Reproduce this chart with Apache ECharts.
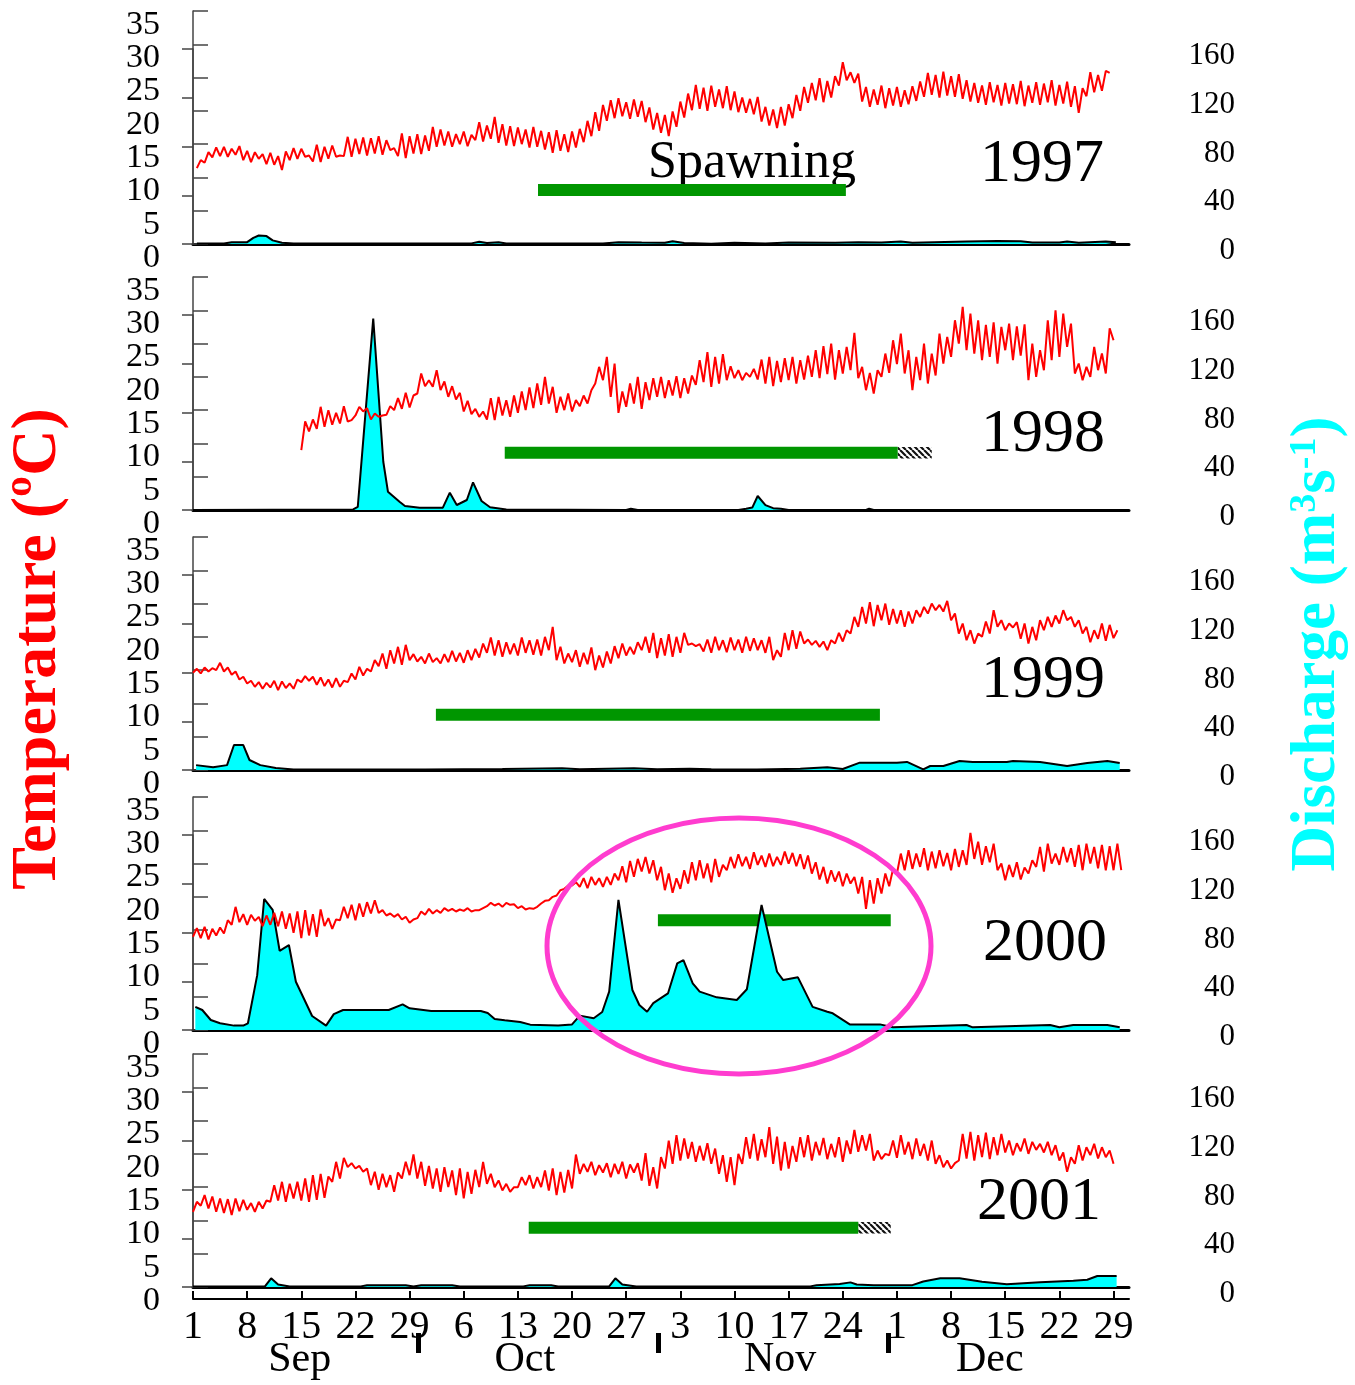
<!DOCTYPE html>
<html>
<head>
<meta charset="utf-8">
<title>Temperature and discharge, 1997-2001</title>
<style>
  body { margin: 0; background: #fff; }
  #chart { width: 1355px; height: 1385px; }
</style>
</head>
<body>
<div id="chart"></div>
<script src="https://cdn.jsdelivr.net/npm/echarts@6/dist/echarts.min.js"></script>
<script>
// ---- data (days counted from 1 Sep, half-day temperature readings: low, high, ...) ----
var years = ['1997', '1998', '1999', '2000', '2001'];

var tempStart = [0.5, 14, 0, 0, 0];

var temp1997 = [11.4,12.6, 12.2,13.8, 13.0,14.5, 13.2,14.6, 13.1,14.3, 13.4,14.7, 12.6,14.0, 12.3,13.8, 12.8,13.5, 12.0,13.7,
 11.9,13.2, 11.1,13.9, 12.6,14.4, 12.8,14.3, 13.1,13.3, 12.4,14.9, 12.3,14.6, 12.8,14.8, 13.1,13.3, 13.2,16.1,
 13.1,15.8, 13.5,16.0, 13.3,15.9, 13.6,16.2, 13.4,15.6, 14.1,14.4, 13.2,16.6, 12.9,16.2, 13.6,16.5, 13.5,16.3,
 14.0,17.6, 14.6,17.2, 14.8,16.9, 14.6,16.5, 15.0,16.9, 14.7,16.4, 15.6,18.3, 15.4,17.8, 15.8,19.1, 15.2,18.0,
 14.8,17.7, 14.7,17.5, 15.0,17.2, 14.5,17.6, 14.6,17.0, 14.2,16.8, 13.7,17.1, 14.0,16.5, 13.8,16.9, 14.5,17.3,
 15.3,18.5, 16.2,19.8, 17.0,20.9, 18.5,21.6, 18.9,21.9, 19.2,21.3, 18.8,21.7, 19.1,21.5, 18.3,20.5, 17.2,19.7,
 16.7,19.4, 16.2,19.9, 17.6,21.4, 19.0,22.6, 20.1,23.9, 20.3,23.5, 20.0,23.8, 20.6,23.2, 20.4,23.7, 20.1,22.9,
 19.8,22.0, 19.7,21.8, 19.5,22.1, 18.4,20.6, 17.8,20.2, 17.4,20.6, 17.8,21.0, 18.9,22.4, 20.0,23.6, 21.2,24.2,
 21.6,24.9, 21.3,24.5, 22.0,25.2, 23.8,27.3, 24.6,25.8, 24.2,25.6, 21.4,23.6, 20.6,23.2, 20.9,23.8, 20.4,23.4,
 20.8,23.6, 20.6,23.1, 21.0,23.7, 21.5,24.4, 22.1,25.7, 22.4,25.4, 22.0,25.9, 22.3,25.2, 22.1,25.5, 21.8,24.6,
 21.4,24.2, 21.2,23.8, 20.9,24.3, 21.3,23.9, 20.8,24.2, 21.1,24.0, 21.0,24.5, 20.7,23.8, 21.2,24.3, 20.9,24.1,
 21.3,24.6, 20.8,23.9, 21.1,24.4, 20.6,23.7, 19.7,23.4, 22.2,25.8, 22.8,25.4, 23.0,26.0, 25.7];

var temp1998 = [9.0,13.3, 11.8,13.6, 12.2,15.5, 12.5,15.0, 12.8,14.6, 13.0,15.6, 13.3,13.5, 14.2,15.5, 14.8,15.3, 13.6,14.5,
 14.0,14.2, 14.3,15.6, 15.0,16.8, 15.2,17.6, 15.4,17.2, 17.5,20.5, 18.6,19.5, 18.5,21.0, 18.0,19.3, 17.0,18.6,
 16.6,17.6, 14.8,16.4, 14.4,15.2, 14.0,14.8, 13.6,16.8, 13.5,17.0, 14.2,16.5, 14.0,17.2, 14.6,17.8, 15.0,18.4,
 15.3,19.0, 15.8,20.0, 16.0,18.5, 14.6,17.0, 15.0,17.5, 14.8,16.5, 15.6,17.2, 16.0,18.0, 19.0,21.5, 19.5,23.0,
 17.0,22.0, 14.6,17.8, 15.5,19.0, 16.0,20.0, 15.2,19.2, 16.5,19.8, 17.0,20.0, 16.8,19.5, 17.2,20.1, 16.8,19.8,
 17.5,20.2, 18.8,22.5, 19.2,23.7, 18.5,23.0, 19.0,23.4, 19.5,21.6, 19.8,21.0, 19.5,20.6, 20.0,21.2, 19.6,22.6,
 19.0,23.0, 18.6,22.4, 19.2,22.8, 19.5,23.0, 19.0,22.5, 19.6,23.2, 20.0,24.0, 19.8,24.6, 20.4,25.0, 19.6,24.0,
 20.5,24.5, 21.0,26.6, 19.8,21.5, 18.0,20.6, 17.5,21.0, 20.0,23.5, 20.6,25.5, 21.9,26.5, 20.5,24.0, 18.0,23.0,
 19.5,25.0, 19.0,23.5, 20.2,26.5, 22.0,26.0, 23.0,28.5, 25.0,30.5, 24.0,29.5, 23.5,28.5, 22.5,27.8, 23.0,28.2,
 22.0,27.5, 24.0,28.0, 22.5,27.6, 23.2,27.9, 19.5,25.0, 20.0,24.0, 21.0,28.5, 22.5,30.0, 23.0,29.5, 24.5,28.0,
 20.5,22.0, 19.5,21.5, 20.0,24.5, 21.0,23.5, 20.5,27.3, 25.5];

var temp1999 = [14.6,15.2, 14.5,15.4, 14.8,15.3, 15.0,16.1, 14.8,15.4, 14.3,14.8, 13.6,14.0, 13.0,13.4, 12.5,13.2, 12.2,13.1,
 12.4,13.4, 12.0,13.3, 12.3,13.0, 12.2,13.6, 13.2,14.1, 13.4,14.0, 12.8,13.9, 12.6,13.6, 12.4,13.8, 12.5,13.4,
 13.2,14.5, 13.6,15.5, 14.2,15.2, 14.8,16.5, 15.6,17.5, 15.2,18.0, 16.0,18.5, 15.8,18.8, 16.5,17.4, 16.3,17.0,
 16.0,17.5, 16.2,16.8, 16.0,17.4, 16.2,17.9, 16.3,17.6, 16.1,18.0, 16.5,18.2, 16.9,19.0, 17.6,19.9, 17.2,19.5,
 17.0,19.2, 17.4,19.0, 17.2,19.9, 17.6,19.5, 17.3,19.6, 17.2,20.0, 18.0,21.5, 16.5,18.5, 16.0,17.5, 16.2,18.0,
 15.5,17.6, 15.9,18.4, 15.0,17.2, 15.4,17.8, 16.0,18.6, 16.8,19.0, 17.2,18.5, 17.4,19.2, 18.0,20.0, 17.6,20.6,
 16.8,19.8, 17.2,20.4, 17.0,20.0, 17.6,20.6, 18.8,19.0, 18.6,18.9, 17.8,19.6, 17.6,20.0, 18.0,19.5, 17.7,19.9,
 18.0,19.6, 17.6,20.0, 17.9,19.8, 18.0,19.5, 17.6,20.0, 16.5,18.0, 17.0,20.6, 18.0,21.0, 18.2,20.8, 19.0,19.6,
 18.8,19.4, 18.5,19.3, 18.0,19.5, 19.0,20.6, 19.3,21.0, 20.5,23.0, 21.5,24.5, 22.0,25.2, 21.6,24.8, 22.5,25.0,
 21.8,24.2, 22.0,24.0, 21.5,23.8, 22.0,24.0, 23.0,24.5, 23.5,25.0, 24.0,24.8, 23.8,25.4, 22.5,23.5, 20.5,22.0,
 19.5,21.0, 19.0,20.5, 20.0,22.3, 20.5,24.0, 21.5,22.5, 21.0,22.0, 21.4,22.2, 19.7,22.0, 19.0,21.5, 19.5,22.5,
 21.0,23.0, 21.5,23.2, 22.0,24.0, 22.5,23.0, 21.5,22.5, 20.5,21.5, 19.2,21.0, 19.7,22.0, 19.4,21.8, 19.8,21.0];

var temp2000 = [14.0,15.3, 13.8,15.5, 13.6,15.2, 14.2,15.4, 14.5,16.5, 15.8,18.5, 16.2,17.4, 15.8,17.3, 16.4,17.0, 15.6,17.2,
 15.8,17.6, 15.6,17.8, 15.2,17.5, 14.6,17.8, 13.8,18.0, 14.2,17.4, 14.0,18.1, 15.6,16.8, 15.2,16.6, 16.5,18.5,
 16.8,18.8, 16.5,19.0, 17.0,19.2, 17.5,19.5, 17.6,18.0, 17.2,17.5, 17.0,17.4, 16.6,17.0, 16.1,16.6, 16.8,17.8,
 17.3,18.2, 17.5,18.0, 17.6,18.3, 17.9,18.2, 17.8,18.1, 17.9,18.3, 17.8,18.0, 18.0,18.3, 18.6,19.1, 18.7,19.0,
 18.5,19.1, 18.8,18.9, 18.3,18.6, 18.1,18.3, 18.2,18.5, 19.0,19.4, 19.5,20.0, 20.2,21.0, 21.2,21.7, 21.7,22.2,
 21.5,22.8, 21.3,23.0, 21.8,22.8, 21.5,23.0, 21.8,23.5, 22.5,24.6, 22.2,25.4, 23.0,25.7, 23.8,26.0, 23.5,25.5,
 22.5,24.5, 21.0,23.5, 20.6,22.8, 21.2,24.0, 22.0,25.2, 22.5,25.5, 22.8,25.0, 22.2,25.7, 23.0,24.8, 24.0,26.0,
 24.3,26.4, 24.6,26.0, 24.2,26.7, 24.8,26.2, 24.5,26.5, 24.6,26.0, 24.8,26.8, 25.0,26.6, 24.6,26.4, 24.2,26.2,
 23.5,25.2, 22.6,24.5, 22.0,24.0, 22.3,23.8, 21.6,23.5, 22.0,23.0, 20.5,23.0, 18.2,22.5, 19.0,22.8, 20.5,23.5,
 21.6,24.2, 23.5,26.5, 24.0,27.0, 24.2,26.5, 24.5,27.3, 24.0,26.8, 24.3,27.0, 24.6,26.6, 24.0,27.2, 24.5,27.0,
 24.8,29.6, 25.7,28.3, 24.8,27.6, 25.2,28.0, 24.0,25.0, 22.5,24.8, 23.0,25.2, 22.6,24.4, 23.5,25.5, 24.5,27.5,
 23.8,28.0, 25.0,26.5, 24.8,27.5, 25.2,27.3, 24.5,27.8, 24.0,28.0, 25.0,27.5, 24.3,27.8, 24.0,27.6, 24.0,28.0,
 24.0];

var temp2001 = [11.3,12.8, 12.2,13.8, 11.8,13.6, 11.3,13.3, 11.1,13.2, 10.8,13.3, 11.4,13.1, 11.6,12.6, 11.3,12.8, 11.8,13.0,
 12.8,15.3, 13.0,15.8, 12.8,15.5, 13.3,15.8, 13.0,16.3, 12.8,16.8, 13.1,17.0, 13.4,16.6, 15.8,18.8, 16.3,19.4,
 18.0,18.6, 17.8,18.2, 17.3,17.8, 15.3,17.3, 14.6,17.0, 15.0,16.8, 14.3,17.2, 16.3,18.8, 16.8,19.9, 16.3,18.8,
 15.2,18.2, 14.8,17.8, 14.3,18.0, 15.0,17.5, 13.8,17.8, 13.3,17.3, 14.0,17.6, 15.0,18.8, 15.5,17.0, 15.0,16.0,
 14.5,15.5, 14.3,15.0, 15.0,16.5, 15.3,16.8, 14.8,16.5, 15.0,17.5, 14.5,17.8, 13.8,17.3, 14.2,17.6, 14.8,19.9,
 17.0,18.5, 17.3,18.8, 16.8,18.3, 17.2,18.6, 16.5,18.5, 17.0,18.8, 16.3,18.4, 17.2,18.6, 16.0,20.1, 15.2,18.0,
 14.8,19.5, 17.8,22.0, 18.5,22.8, 19.0,22.3, 19.3,21.8, 18.8,21.2, 19.0,21.6, 18.5,20.8, 17.0,19.8, 15.8,19.5,
 15.3,20.0, 18.5,22.5, 19.3,23.0, 19.0,22.2, 19.5,24.0, 18.5,22.6, 17.5,21.8, 17.8,21.2, 18.8,22.5, 19.5,22.8,
 19.0,21.8, 19.8,22.4, 19.2,21.5, 19.5,22.5, 18.8,22.0, 20.0,23.6, 20.3,22.8, 20.5,23.0, 19.0,20.5, 19.2,20.0,
 19.8,22.0, 19.4,22.8, 19.9,21.8, 19.2,22.3, 19.7,21.5, 19.0,22.0, 18.5,19.8, 18.0,19.0, 17.8,18.6, 19.0,23.0,
 19.3,23.3, 19.0,22.8, 19.5,23.2, 19.2,22.5, 19.8,23.0, 20.2,22.0, 19.8,21.6, 20.4,22.3, 20.0,21.8, 20.6,21.5,
 20.2,21.8, 19.8,21.3, 19.0,20.2, 17.3,19.5, 18.5,21.3, 19.0,21.0, 19.8,21.5, 19.3,21.0, 19.5,20.5, 18.5];

// discharge (m3/s) at the given day
var qDays1997 = [0.5, 4, 5, 7, 7.8, 8.5, 9.5, 10.3, 11.5, 13, 36, 37, 38, 39.5, 40.5, 53, 55, 58, 61, 62, 63.5, 67, 70, 74, 77,
 83, 86, 89, 91.5, 93, 100, 104, 107, 108.5, 112, 113, 114.5, 118, 119.3];
var q1997 = [0.5, 0.5, 1.5, 1.5, 5, 7, 6.5, 3, 1, 0.5, 0.5, 1.8, 0.8, 1.5, 0.5, 0.5, 1.5, 1.2, 1, 2.2, 0.8, 0.3, 1, 0.5, 1.2,
 1, 1.5, 1.2, 2, 1, 2, 2.5, 2.2, 1.2, 1.2, 2, 1, 2, 1.5];

var qDays1998 = [0, 20.7, 21.3, 23.3, 24.6, 25.2, 26.7, 27.4, 29.3, 32.3, 33.2, 34.1, 35.4, 36.2, 37.3, 38.4, 40.5, 56, 56.6, 57.5,
 70.5, 71.5, 72.3, 73, 74, 75, 76, 77, 87, 87.4, 88, 119.7];
var q1998 = [0, 0.5, 2.5, 157, 39.6, 15, 6.8, 3.3, 1.9, 1.9, 14.2, 4.1, 8.2, 22.7, 7.4, 2.2, 0.5, 0, 1, 0,
 0, 1, 2, 11.5, 4, 1.5, 1, 0, 0, 1, 0, 0];

var qDays1999 = [0.4, 2.6, 4.4, 5.3, 6.5, 7.3, 8.7, 10.7, 13, 30, 40, 47.7, 50, 57, 60, 64.2, 67, 72.9, 78.5, 82,
 84, 86.2, 88, 91, 92.3, 94.4, 95.3, 97, 99.1, 100.8, 105.2, 106, 109.5, 113, 115.6, 118.2, 119.8];
var q1999 = [4, 2.2, 4, 20.5, 20.5, 8.2, 4, 1.6, 0.5, 0.5, 0.8, 1.5, 0.6, 1.5, 0.6, 1, 0.6, 0.5, 1, 2.2,
 0.8, 6, 6, 6, 6.6, 0.5, 3.3, 3.3, 7.4, 6.6, 6.6, 7.4, 6.6, 3.3, 5.7, 7.4, 5.7];

var qDays2000 = [0.3, 1.2, 2.3, 3.5, 5.3, 6.5, 7.1, 8.3, 9.2, 10.3, 11.2, 12.4, 13.3, 15.4, 17.2, 18.2, 19.4, 25.3, 27.1, 28,
 30.8, 37.2, 38.1, 39, 40.3, 42.3, 43.6, 47.2, 49, 50, 51.8, 52.9, 53.8, 55, 56.8, 57.7, 58.7, 59.5, 61.4, 62.6,
 63.4, 64.6, 65.5, 67.7, 70.3, 71.6, 73.5, 75.5, 76.3, 78.2, 80.1, 82, 82.7, 84.9, 88.8, 90.5, 100, 100.8, 110.8, 112,
 113.8, 118.2, 119.8];
var q2000 = [19, 16.4, 8.2, 5.5, 3.6, 3.6, 5.5, 45, 107.5, 98.5, 65, 69.7, 39.6, 11.5, 3.6, 13, 16.4, 16.4, 21, 17.8,
 15.6, 15.6, 13.9, 9, 8, 6.6, 4.4, 3.6, 4.6, 11.8, 9.6, 14.8, 31.5, 106.7, 32.8, 20.5, 15, 22, 30, 54.7,
 57.4, 38.3, 31.5, 26.8, 24.6, 33.4, 102.6, 47.8, 41, 43.2, 19, 15, 13.7, 4.6, 4.6, 2.2, 4.1, 2.2, 4.1, 2.2,
 4.1, 4.1, 2.2];

var qDays2001 = [0, 9.3, 10.1, 11, 12.5, 21.7, 22.5, 27.5, 28.5, 29.5, 30.3, 33.5, 34.5, 42.7, 43.5, 46.3, 47.2, 53.8, 54.6, 55.5,
 57.3, 79.8, 80.6, 83.6, 85, 85.8, 88, 93, 94.4, 96.6, 99.1, 102, 105.2, 109.5, 113.8, 115.6, 116.9, 119.4];
var q2001 = [0.5, 0.5, 7.1, 2, 0.5, 0.5, 1.5, 1.5, 0.5, 1.5, 1.5, 1.5, 0.5, 0.5, 1.5, 1.5, 0.5, 0.5, 7.1, 2,
 0.5, 0.5, 1.5, 2.5, 3.8, 2, 1.5, 1.5, 4.5, 7.1, 7.1, 4.4, 2.2, 3.8, 5.2, 6, 9, 9];

// spawning periods (days), null = no uncertain tail
var spawnStart = [44.6, 40.3, 31.4, 60.1, 43.4];
var spawnEnd = [84.4, 91.1, 88.8, 90.2, 86.0];
var spawnUncertainEnd = [null, 95.5, null, null, 90.2];

// axis labels
var tempLabelsA = [0, 10, 20, 30];
var tempLabelsB = [5, 15, 25, 35];
var tickDays = [0, 7, 14, 21, 28, 35, 42, 49, 56, 63, 70, 77, 84, 91, 98, 105, 112, 119];
var dayLabels = ['1', '8', '15', '22', '29', '6', '13', '20', '27', '3', '10', '17', '24', '1', '8', '15', '22', '29'];
var monthNames = ['Sep', 'Oct', 'Nov', 'Dec'];
var monthLabelDays = [13.8, 42.9, 75.9, 103];
var monthMarks = [29.1, 60.2, 89.9];

// ---- layout ----
var panelTop = [11, 277, 537, 797, 1054];
var PLOT_LEFT = 193, PLOT_W = 936, TEMP_H = 233, Q_H = 195, DAY_MAX = 121;
var spawnLevel = [8.1, 8.6, 8.3, 16.5, 8.9];
var yearY = [165, 435, 681, 944, 1203];
var yearRight = [1104, 1105, 1105, 1107, 1101];
var SERIF = '"Liberation Serif", serif';

var tempArrays = [temp1997, temp1998, temp1999, temp2000, temp2001];
var qDayArrays = [qDays1997, qDays1998, qDays1999, qDays2000, qDays2001];
var qArrays = [q1997, q1998, q1999, q2000, q2001];

// hatch for the uncertain end of spawning
var hatch = document.createElement('canvas');
hatch.width = 6;
hatch.height = 6;
var hctx = hatch.getContext('2d');
hctx.fillStyle = '#fff';
hctx.fillRect(0, 0, 6, 6);
hctx.strokeStyle = '#111';
hctx.lineWidth = 2.2;
hctx.beginPath();
[-6, 0, 6].forEach(function (k) {
    hctx.moveTo(k, 0);
    hctx.lineTo(k + 6, 6);
});
hctx.stroke();

function tempLabelStyle(values) {
    return {
        customValues: values, margin: 12, verticalAlign: 'top',
        showMinLabel: true, showMaxLabel: true, hideOverlap: false,
        formatter: '{t|{value}}',
        rich: { t: { fontFamily: SERIF, fontSize: 34, color: '#000', lineHeight: 28 } }
    };
}

function buildPanels() {
    var grids = [], xAxes = [], yAxes = [], series = [];
    for (var p = 0; p < 5; p++) {
        var panelY = panelTop[p];
        grids.push({ left: PLOT_LEFT, top: panelY, width: PLOT_W, height: TEMP_H });
        grids.push({ left: PLOT_LEFT, top: panelY + (TEMP_H - Q_H), width: PLOT_W, height: Q_H });

        xAxes.push({ gridIndex: 2 * p, type: 'value', min: 0, max: DAY_MAX, show: false });
        xAxes.push({
            gridIndex: 2 * p + 1, type: 'value', min: 0, max: DAY_MAX,
            axisLine: { show: true, onZero: false, lineStyle: { color: '#000', width: 3 } },
            axisTick: { show: false }, axisLabel: { show: false }, splitLine: { show: false }
        });

        // yAxis 3p: temperature (line, ticks, half the labels)
        yAxes.push({
            gridIndex: 2 * p, type: 'value', min: 0, max: 35, interval: 5,
            position: 'left', offset: 21,
            axisLine: { show: true, lineStyle: { color: '#444', width: 1.5 } },
            axisTick: { show: true, inside: true, length: 15, lineStyle: { color: '#444', width: 1.5 } },
            axisLabel: tempLabelStyle(tempLabelsA),
            splitLine: { show: false }
        });
        // yAxis 3p+1: discharge
        yAxes.push({
            gridIndex: 2 * p + 1, type: 'value', min: 0, max: 160, interval: 40,
            position: 'right', offset: 36,
            axisLine: { show: true, lineStyle: { color: '#444', width: 1.5 } },
            axisTick: { show: true, inside: true, length: 11, lineStyle: { color: '#444', width: 1.5 } },
            axisLabel: {
                fontFamily: SERIF, fontSize: 31, color: '#000', margin: 70, align: 'right', verticalAlign: 'top', lineHeight: 14,
                showMinLabel: true, showMaxLabel: true, hideOverlap: false
            },
            splitLine: { show: false }
        });
        // yAxis 3p+2: other half of the temperature labels
        yAxes.push({
            gridIndex: 2 * p, type: 'value', min: 0, max: 35, interval: 5,
            position: 'left', offset: 21,
            axisLine: { show: false }, axisTick: { show: false },
            axisLabel: tempLabelStyle(tempLabelsB),
            splitLine: { show: false }
        });

        var spawn = {
            type: 'line', xAxisIndex: 2 * p, yAxisIndex: 3 * p, z: 1,
            symbol: 'none',
            data: [[spawnStart[p], spawnLevel[p]], [spawnEnd[p], spawnLevel[p]]],
            lineStyle: { color: '#009600', width: 12, cap: 'butt' }
        };
        if (spawnUncertainEnd[p] != null) {
            spawn.markArea = {
                silent: true,
                itemStyle: { color: { image: hatch, repeat: 'repeat' } },
                data: [[
                    { xAxis: spawnEnd[p], yAxis: spawnLevel[p] - 0.85 },
                    { xAxis: spawnUncertainEnd[p], yAxis: spawnLevel[p] + 0.85 }
                ]]
            };
        }
        series.push(spawn);

        var qd = qDayArrays[p], qv = qArrays[p], qData = [];
        for (var i = 0; i < qd.length; i++) qData.push([qd[i], qv[i]]);
        series.push({
            type: 'line', xAxisIndex: 2 * p + 1, yAxisIndex: 3 * p + 1, z: 2,
            symbol: 'none', data: qData,
            lineStyle: { color: '#000', width: 2 },
            areaStyle: { color: '#00ffff', opacity: 1 }
        });

        var t = tempArrays[p], tData = [];
        for (var j = 0; j < t.length; j++) tData.push([tempStart[p] + j * 0.5, t[j]]);
        series.push({
            type: 'line', xAxisIndex: 2 * p, yAxisIndex: 3 * p, z: 3,
            symbol: 'none', data: tData,
            lineStyle: { color: '#ff0000', width: 2 }
        });
    }

    // day numbers, month names and month separators under the last panel
    xAxes.push({
        gridIndex: 8, type: 'value', min: 0, max: DAY_MAX, position: 'bottom', offset: 12,
        axisLine: { show: true, onZero: false, lineStyle: { color: '#000', width: 2 } },
        axisTick: { show: true, inside: true, length: 8, customValues: tickDays, lineStyle: { color: '#000', width: 2 } },
        axisLabel: {
            customValues: tickDays, fontFamily: SERIF, fontSize: 40, color: '#000', margin: 8,
            showMinLabel: true, showMaxLabel: true, hideOverlap: false,
            formatter: function (v) { var k = tickDays.indexOf(v); return k < 0 ? '' : dayLabels[k]; }
        },
        splitLine: { show: false }
    });
    xAxes.push({
        gridIndex: 8, type: 'value', min: 0, max: DAY_MAX, position: 'bottom', offset: 12,
        axisLine: { show: false }, axisTick: { show: false },
        axisLabel: {
            customValues: monthLabelDays, fontFamily: SERIF, fontSize: 42, color: '#000', margin: 40,
            formatter: function (v) { var k = monthLabelDays.indexOf(v); return k < 0 ? '' : monthNames[k]; }
        },
        splitLine: { show: false }
    });
    xAxes.push({
        gridIndex: 8, type: 'value', min: 0, max: DAY_MAX, position: 'bottom', offset: 46,
        axisLine: { show: false },
        axisTick: { show: true, customValues: monthMarks, length: 20, lineStyle: { color: '#000', width: 5 } },
        axisLabel: { show: false },
        splitLine: { show: false }
    });

    return { grid: grids, xAxis: xAxes, yAxis: yAxes, series: series };
}

function buildGraphics() {
    var graphics = [];
    years.forEach(function (y, k) {
        graphics.push({
            type: 'text', x: yearRight[k], y: yearY[k],
            style: { text: y, font: '62px ' + SERIF, fill: '#000', align: 'right', verticalAlign: 'middle' }
        });
    });
    graphics.push({
        type: 'text', x: 752, y: 163,
        style: { text: 'Spawning', font: '52px ' + SERIF, fill: '#000', align: 'center', verticalAlign: 'middle' }
    });
    graphics.push({
        type: 'text', x: 38, y: 649, rotation: Math.PI / 2,
        style: { text: 'Temperature (ºC)', font: 'bold 64px ' + SERIF, fill: '#ff0000', align: 'center', verticalAlign: 'middle' }
    });
    graphics.push({
        type: 'text', x: 1318, y: 644, rotation: Math.PI / 2,
        style: {
            text: 'Discharge (m{sup|3}s{sup|-1})',
            fontFamily: SERIF, fontSize: 63, fontWeight: 'bold', fill: '#00ffff',
            align: 'center', verticalAlign: 'middle',
            textShadowColor: '#9a9a9a', textShadowOffsetX: 3, textShadowOffsetY: 2,
            rich: {
                sup: { fontFamily: SERIF, fontSize: 38, fontWeight: 'bold', fill: '#00ffff', verticalAlign: 'top' }
            }
        }
    });
    graphics.push({
        type: 'ellipse', z: 20,
        shape: { cx: 739, cy: 946, rx: 192, ry: 128 },
        style: { fill: 'none', stroke: '#ff3ccf', lineWidth: 5 }
    });
    return graphics;
}

var option = buildPanels();
option.animation = false;
option.graphic = buildGraphics();

var chart = echarts.init(document.getElementById('chart'));
chart.setOption(option);
</script>
</body>
</html>
